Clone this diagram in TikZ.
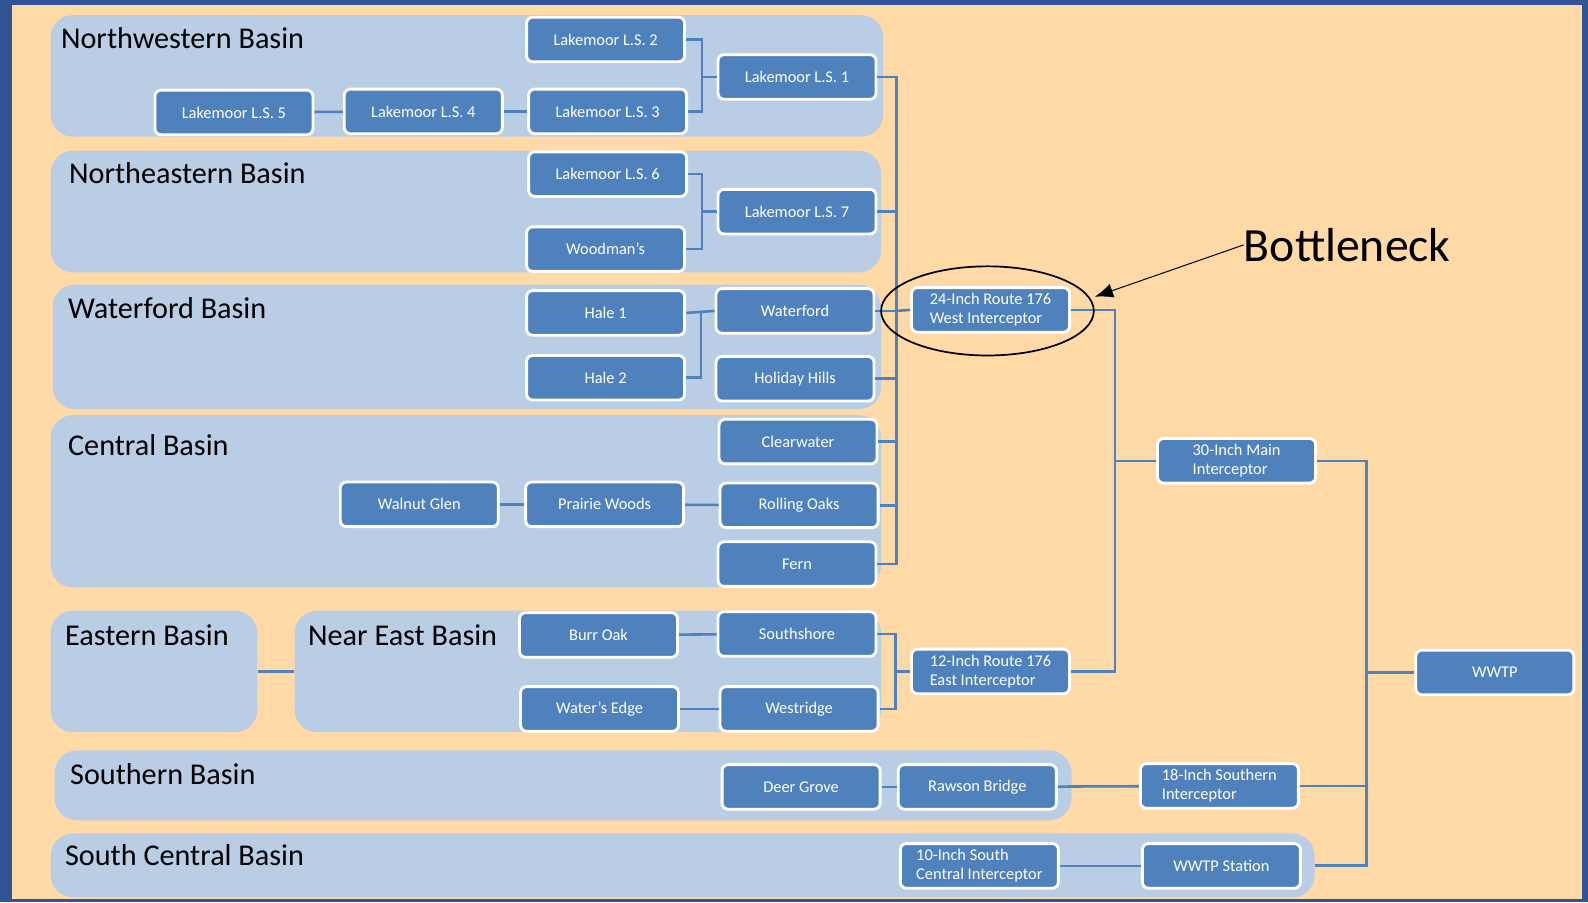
\documentclass[tikz,border=0pt]{standalone}
\usepackage{fontspec}
\setmainfont{Carlito}
\usepackage{tikz}
\usetikzlibrary{arrows.meta, positioning, calc, fit, shapes.geometric}

\definecolor{frameblue}{RGB}{47,85,151}
\definecolor{peach}{RGB}{255,217,166}
\definecolor{basinblue}{RGB}{185,205,229}
\definecolor{stationblue}{RGB}{79,129,189}

\begin{document}
\begin{tikzpicture}[x=0.025cm, y=-0.025cm,
  basin/.style={fill=basinblue, rounded corners=0.55cm, inner sep=0pt},
  basinlabel/.style={anchor=base west, inner sep=0pt, font=\fontsize{21.2}{24}\selectfont},
  station/.style={draw=white, line width=2pt, fill=stationblue, rounded corners=0.15cm,
    minimum width=3.9cm, minimum height=1.1cm, text=white, align=left, inner sep=2pt,
    font=\fontsize{11.5}{13.5}\selectfont},
  pipe/.style={draw=stationblue, line width=1.8pt}]

% Frame and background
\fill[frameblue] (0,0) rectangle (1568,891);
\fill[peach] (12,5) rectangle (1562,888);
\useasboundingbox (0,0) rectangle (1568,891);

% Basins
\node[basin, fit={(50,15) (872,135)}] (nwb) {};
\node[basin, fit={(50,149) (870,269)}] (neb) {};
\node[basin, fit={(52,281) (870,404)}] (wfb) {};
\node[basin, fit={(50,410) (870,580)}] (cb) {};
\node[basin, fit={(50,603) (254,723)}] (eb) {};
\node[basin, fit={(291,603) (870,723)}] (nearb) {};
\node[basin, fit={(54,741) (1058,810)}] (sb) {};
\node[basin, fit={(50,823) (1298,886)}] (scb) {};

\node[basinlabel] (nwbl) at (60,48) {Northwestern Basin};
\node[basinlabel] (nebl) at (68,181) {Northeastern Basin};
\node[basinlabel] (wfbl) at (67,314) {Waterford Basin};
\node[basinlabel] (cbl) at (67,450) {Central Basin};
\node[basinlabel] (ebl) at (64,637) {Eastern Basin};
\node[basinlabel] (nearbl) at (304,637) {Near East Basin};
\node[basinlabel] (sbl) at (69,775) {Southern Basin};
\node[basinlabel] (scbl) at (64,855) {South Central Basin};

% Lift stations
\node[station] (ls2) at (598,39) {Lakemoor L.S. 2};
\node[station] (ls1) at (787,76) {Lakemoor L.S. 1};
\node[station] (ls3) at (600,110) {Lakemoor L.S. 3};
\node[station] (ls4) at (418,110) {Lakemoor L.S. 4};
\node[station] (ls5) at (231,111) {Lakemoor L.S. 5};
\node[station] (ls6) at (600,172) {Lakemoor L.S. 6};
\node[station] (ls7) at (787,209) {Lakemoor L.S. 7};
\node[station] (woodman) at (598,246) {Woodman’s};
\node[station] (hale1) at (598,309) {Hale 1};
\node[station] (waterford) at (785,307) {Waterford};
\node[station] (hale2) at (598,373) {Hale 2};
\node[station] (holiday) at (785,374) {Holiday Hills};
\node[station] (clearwater) at (788,436) {Clearwater};
\node[station] (walnut) at (414,498) {Walnut Glen};
\node[station] (prairie) at (597,498) {Prairie Woods};
\node[station] (rolling) at (789,499) {Rolling Oaks};
\node[station] (fern) at (787,557) {Fern};
\node[station] (burr) at (591,627) {Burr Oak};
\node[station] (southshore) at (787,626) {Southshore};
\node[station] (wedge) at (592,700) {Water’s Edge};
\node[station] (westridge) at (789,700) {Westridge};
\node[station] (deer) at (791,777) {Deer Grove};
\node[station] (rawson) at (965,777) {Rawson Bridge};
\node[station] (sc10) at (967,855) {10-Inch South\\Central Interceptor};
\node[station] (wwtps) at (1206,855) {WWTP Station};

% Interceptors
\node[station] (w24) at (978,306) {24-Inch Route 176\\West Interceptor};
\node[station] (e12) at (978,663) {12-Inch Route 176\\East Interceptor};
\node[station] (m30) at (1221,455) {30-Inch Main\\Interceptor};
\node[station] (s18) at (1204,776) {18-Inch Southern\\Interceptor};
\node[station] (wwtp) at (1476,664) {WWTP};

% Junctions
\coordinate (nwj) at (693,76);
\coordinate (nej) at (693,209);
\coordinate (hj) at (692,308);
\coordinate (wbus) at (885,307);
\coordinate (ebus) at (884,663);
\coordinate (mbus) at (1101,455);
\coordinate (pbus) at (1349,664);

% Pipes
\draw[pipe] (ls5) -- (ls4);
\draw[pipe] (ls4) -- (ls3);
\draw[pipe] (ls2.east) -| (nwj) -- (ls1.west);
\draw[pipe] (ls3.east) -| (nwj);
\draw[pipe] (ls6.east) -| (nej) -- (ls7.west);
\draw[pipe] (woodman.east) -| (nej);
\draw[pipe] (hale1.east) -- (waterford.west);
\draw[pipe] (hale2.east) -| (hj);
\draw[pipe] (walnut) -- (prairie);
\draw[pipe] (prairie) -- (rolling);
\foreach \s in {ls1,ls7,waterford,holiday,clearwater,rolling,fern}
  \draw[pipe] (\s.east) -| (wbus);
\draw[pipe] (wbus) -- (w24.west);

\draw[pipe] (eb.east) -- (nearb.west);
\draw[pipe] (burr) -- (southshore);
\draw[pipe] (wedge) -- (westridge);
\draw[pipe] (southshore.east) -| (ebus);
\draw[pipe] (westridge.east) -| (ebus);
\draw[pipe] (ebus) -- (e12.west);

\draw[pipe] (w24.east) -| (mbus);
\draw[pipe] (e12.east) -| (mbus);
\draw[pipe] (mbus) -- (m30.west);

\draw[pipe] (deer) -- (rawson);
\draw[pipe] (rawson) -- (s18);
\draw[pipe] (sc10) -- (wwtps);
\draw[pipe] (m30.east) -| (pbus);
\draw[pipe] (s18.east) -| (pbus);
\draw[pipe] (scb.east) -| (pbus);
\draw[pipe] (pbus) -- (wwtp.west);

% Bottleneck callout
\node[draw, ellipse, line width=1.2pt, minimum width=5.25cm, minimum height=2.2cm] (ring) at (975,307) {};
\node[anchor=base west, inner sep=0pt, font=\fontsize{33.5}{36}\selectfont] (bneck) at (1228,258) {Bottleneck};
\coordinate (tip) at (1081,293);
\draw[-{Latex[length=0.45cm, width=0.35cm]}, line width=0.7pt] (bneck.west) -- (tip);
\end{tikzpicture}
\end{document}
